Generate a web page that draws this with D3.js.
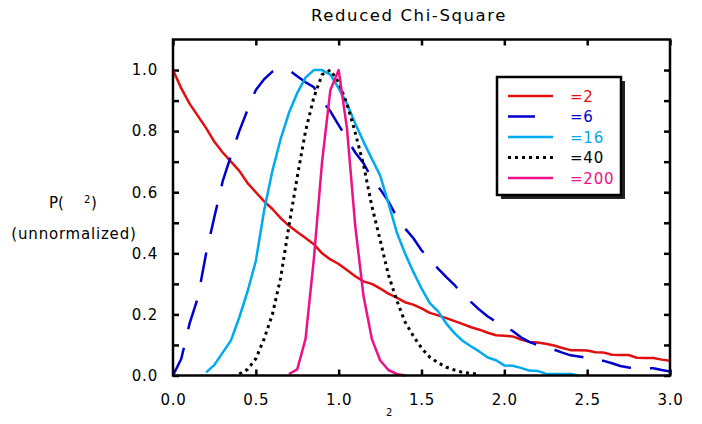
<!DOCTYPE html>
<html>
<head>
<meta charset="utf-8">
<script src="https://cdn.jsdelivr.net/npm/d3@7"></script>
<style>
  body { margin: 0; background: #fff; }
  text { font-family: "DejaVu Sans", sans-serif; }
</style>
</head>
<body>
<div id="chart_div"></div>
<script>
// x grid shared by all curves (reduced chi-square)
var xGrid = [0.0, 0.05, 0.1, 0.15, 0.2, 0.25, 0.3, 0.35, 0.4, 0.45,
             0.5, 0.55, 0.6, 0.65, 0.7, 0.75, 0.8, 0.85, 0.9, 0.95,
             1.0, 1.05, 1.1, 1.15, 1.2, 1.25, 1.3, 1.35, 1.4, 1.45,
             1.5, 1.55, 1.6, 1.65, 1.7, 1.75, 1.8, 1.85, 1.9, 1.95,
             2.0, 2.05, 2.1, 2.15, 2.2, 2.25, 2.3, 2.35, 2.4, 2.45,
             2.5, 2.55, 2.6, 2.65, 2.7, 2.75, 2.8, 2.85, 2.9, 2.95, 3.0];

var nu2 = [1.0, 0.94, 0.89, 0.85, 0.81, 0.765, 0.73, 0.70, 0.67, 0.63,
           0.60, 0.57, 0.545, 0.515, 0.49, 0.47, 0.45, 0.43, 0.40, 0.38,
           0.365, 0.345, 0.325, 0.308, 0.30, 0.285, 0.268, 0.255, 0.24, 0.232,
           0.22, 0.205, 0.197, 0.188, 0.178, 0.168, 0.158, 0.15, 0.14, 0.132,
           0.13, 0.128, 0.118, 0.11, 0.108, 0.104, 0.098, 0.09, 0.083, 0.083,
           0.082, 0.076, 0.075, 0.068, 0.067, 0.067, 0.058, 0.057, 0.057, 0.052, 0.048];

var nu6 = [0.0, 0.055, 0.17, 0.255, 0.40, 0.52, 0.636, 0.72, 0.80, 0.87,
           0.935, 0.97, 0.995, 1.0, 1.0, 0.98, 0.96, 0.944, 0.90, 0.865,
           0.82, 0.775, 0.73, 0.695, 0.645, 0.61, 0.57, 0.52, 0.482, 0.45,
           0.41, 0.38, 0.35, 0.322, 0.296, 0.262, 0.24, 0.215, 0.193, 0.176,
           0.16, 0.146, 0.125, 0.11, 0.10, 0.092, 0.085, 0.075, 0.066, 0.062,
           0.058, 0.05, 0.048, 0.04, 0.031, 0.026, 0.024, 0.024, 0.024, 0.018, 0.013];

var nu16 = [null, null, null, null,
            0.01, 0.035, 0.075, 0.115, 0.19, 0.275, 0.375, 0.54, 0.67, 0.775,
            0.86, 0.925, 0.975, 1.0, 1.0, 0.985, 0.94, 0.89, 0.825, 0.765,
            0.71, 0.655, 0.565, 0.47, 0.40, 0.34, 0.285, 0.237, 0.21, 0.17,
            0.138, 0.113, 0.095, 0.078, 0.059, 0.05, 0.033, 0.032, 0.025, 0.016,
            0.015, 0.006, 0.005, 0.005, 0.005, 0.0,
            null, null, null, null, null, null, null, null, null, null, null];

var nu40 = [null, null, null, null, null, null, null, null,
            0.005, 0.02, 0.055, 0.12, 0.2, 0.32, 0.49, 0.65, 0.80, 0.91,
            0.985, 1.0, 0.96, 0.89, 0.795, 0.69, 0.555, 0.445, 0.33, 0.247,
            0.176, 0.13, 0.09, 0.06, 0.042, 0.027, 0.018, 0.01, 0.007, 0.004,
            null, null, null, null, null, null, null, null, null, null, null, null,
            null, null, null, null, null, null, null, null, null, null, null];

var nu200 = [null, null, null, null, null, null, null, null, null, null, null, null, null, null,
             0.005, 0.02, 0.12, 0.38, 0.70, 0.935, 1.0, 0.81, 0.49, 0.26,
             0.12, 0.05, 0.018, 0.005, 0.0,
             null, null, null, null, null, null, null, null, null, null, null, null, null, null, null, null,
             null, null, null, null, null, null, null, null, null, null, null, null, null, null, null, null];

var legendLabels = ["=2", "=6", "=16", "=40", "=200"];
var xTicks = [0, 0.5, 1.0, 1.5, 2.0, 2.5, 3.0];
var yTicks = [0, 0.1, 0.2, 0.3, 0.4, 0.5, 0.6, 0.7, 0.8, 0.9, 1.0];

var series = [
    {values: nu2,   color: "#e01010", dash: null},
    {values: nu6,   color: "#0000cc", dash: "30,19"},
    {values: nu16,  color: "#00aaee", dash: null},
    {values: nu40,  color: "#000000", dash: "3,4"},
    {values: nu200, color: "#ee1088", dash: null}
];

var w = 702, h = 424;
var margin = {top: 39.5, right: 32, bottom: 48.5, left: 173};

var svg = d3.select("#chart_div")
    .append("svg")
    .attr("width", w)
    .attr("height", h);

var x = d3.scaleLinear().domain([0, 3]).range([margin.left, w - margin.right]);
var y = d3.scaleLinear().domain([0, 1.1]).range([h - margin.bottom, margin.top]);

// ticks, all pointing inward
svg.append("g")
    .attr("transform", "translate(0," + y(0) + ")")
    .call(d3.axisBottom(x).tickValues(xTicks).tickSize(-6).tickPadding(19).tickFormat(d3.format(".1f")))
    .call(function(g){ g.select(".domain").remove(); });

svg.append("g")
    .attr("transform", "translate(0," + y(1.1) + ")")
    .call(d3.axisTop(x).tickValues(xTicks).tickSize(-6).tickFormat(""))
    .call(function(g){ g.select(".domain").remove(); });

svg.append("g")
    .attr("transform", "translate(" + x(0) + ",0)")
    .call(d3.axisLeft(y).tickValues(yTicks).tickSize(-6).tickPadding(15)
        .tickFormat(function(d){ return Math.round(d * 10) % 2 == 0 ? d3.format(".1f")(d) : ""; }))
    .call(function(g){ g.select(".domain").remove(); });

svg.append("g")
    .attr("transform", "translate(" + x(3) + ",0)")
    .call(d3.axisRight(y).tickValues(yTicks).tickSize(-6).tickFormat(""))
    .call(function(g){ g.select(".domain").remove(); });

svg.selectAll(".tick line")
    .attr("stroke", "#000")
    .attr("stroke-width", 2.5);

svg.selectAll(".tick text")
    .attr("fill", "#000")
    .style("font-size", "15px")
    .style("letter-spacing", "0.8px");

// curves
var line = d3.line()
    .defined(function(d){ return d[1] != null; })
    .x(function(d){ return x(d[0]); })
    .y(function(d){ return y(d[1]); });

series.forEach(function(s){
    var pts = xGrid.map(function(xv, i){ return [xv, s.values[i]]; });
    svg.append("path")
        .datum(pts)
        .attr("d", line)
        .attr("fill", "none")
        .attr("stroke", s.color)
        .attr("stroke-width", s.dash == "3,4" ? 3 : 2.5)
        .attr("stroke-linejoin", "round")
        .attr("stroke-dasharray", s.dash);
});

// frame
svg.append("rect")
    .attr("x", x(0))
    .attr("y", y(1.1))
    .attr("width", x(3) - x(0))
    .attr("height", y(0) - y(1.1))
    .attr("fill", "none")
    .attr("stroke", "#000")
    .attr("stroke-width", 2.5);

// legend
var lg = {x: 497, y: 77, w: 124, h: 118};
svg.append("rect")
    .attr("x", lg.x + 4).attr("y", lg.y + 4)
    .attr("width", lg.w).attr("height", lg.h)
    .attr("fill", "#222");
svg.append("rect")
    .attr("x", lg.x).attr("y", lg.y)
    .attr("width", lg.w).attr("height", lg.h)
    .attr("fill", "#fff")
    .attr("stroke", "#000")
    .attr("stroke-width", 2.5);

series.forEach(function(s, i){
    var ly = 96 + i * 20.5;
    svg.append("line")
        .attr("x1", 508).attr("x2", 553)
        .attr("y1", ly).attr("y2", ly)
        .attr("stroke", s.color)
        .attr("stroke-width", s.dash == "3,4" ? 3 : 2.5)
        .attr("stroke-dasharray", s.dash == "30,19" ? "27,19" : s.dash);
    svg.append("text")
        .attr("x", 570)
        .attr("y", ly + 5.5)
        .attr("fill", s.color)
        .style("font-size", "15px")
        .style("letter-spacing", "0.8px")
        .text(legendLabels[i]);
});

// titles
svg.append("text")
    .attr("x", 409)
    .attr("y", 21)
    .attr("text-anchor", "middle")
    .style("font-size", "16.5px")
    .style("letter-spacing", "1.6px")
    .text("Reduced Chi-Square");

svg.append("text")
    .attr("x", 49).attr("y", 207.5)
    .style("font-size", "15px")
    .text("P(");
svg.append("text")
    .attr("x", 84).attr("y", 203)
    .style("font-size", "10px")
    .text("2");
svg.append("text")
    .attr("x", 91).attr("y", 207.5)
    .style("font-size", "15px")
    .text(")");

svg.append("text")
    .attr("x", 74).attr("y", 238.5)
    .attr("text-anchor", "middle")
    .style("font-size", "15px")
    .style("letter-spacing", "0.8px")
    .text("(unnormalized)");

svg.append("text")
    .attr("x", 386).attr("y", 416)
    .style("font-size", "10px")
    .text("2");
</script>
</body>
</html>
